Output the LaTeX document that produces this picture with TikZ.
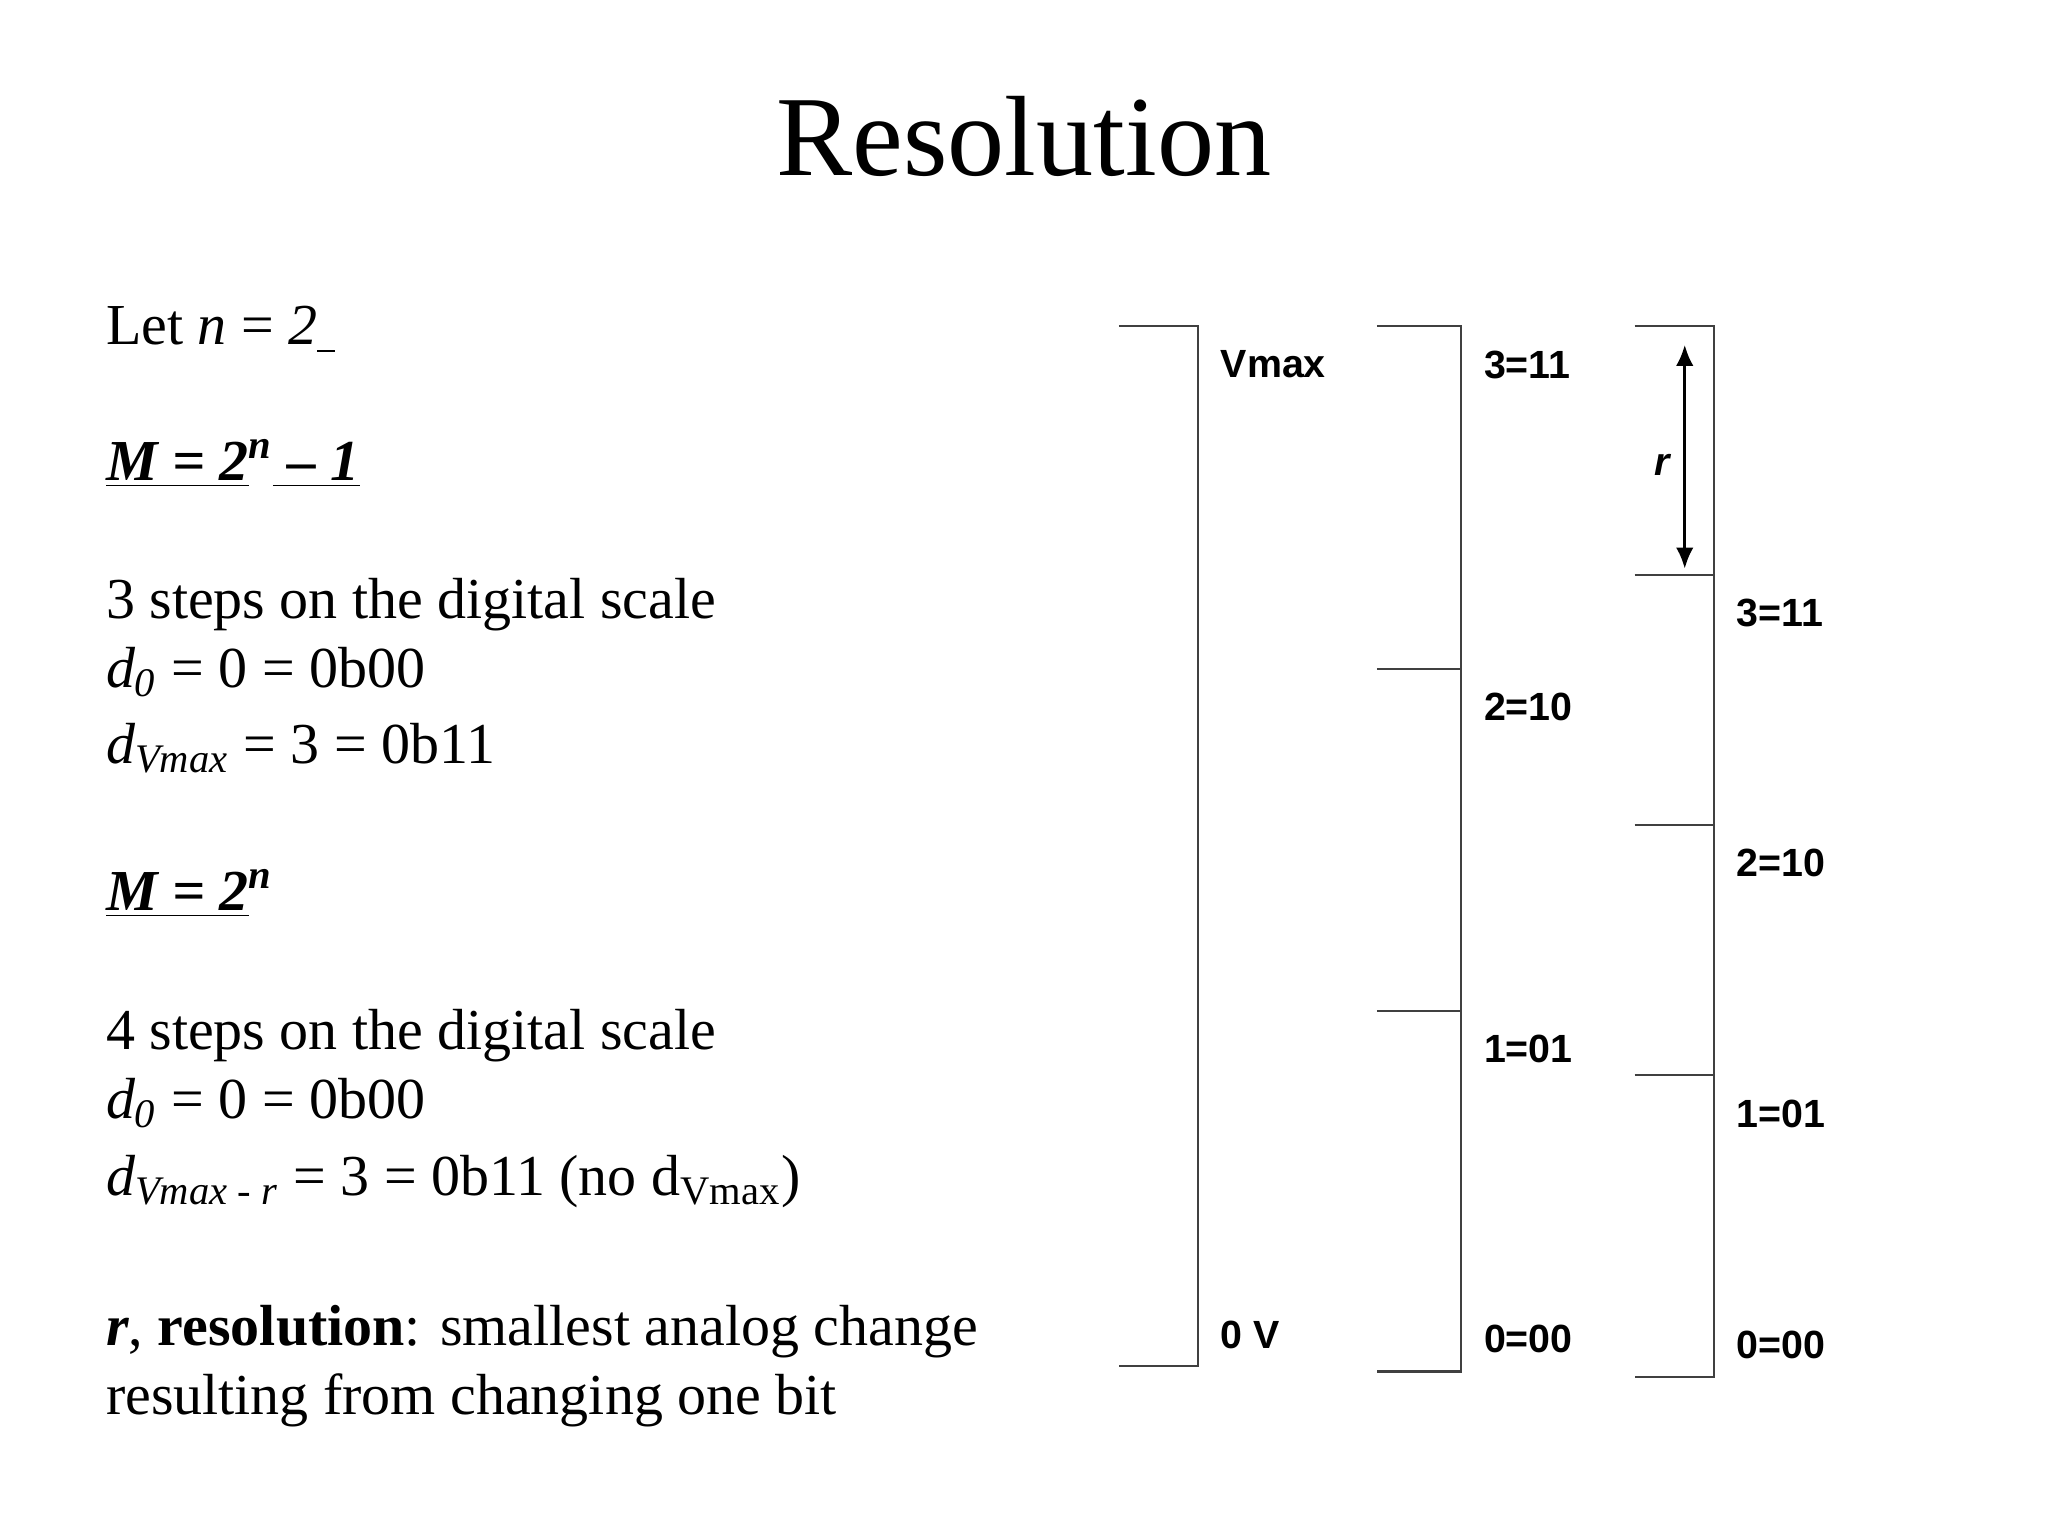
\documentclass[tikz,border=0pt]{standalone}
\usepackage{fontspec}
\setmainfont{Liberation Serif}
\setsansfont{Liberation Sans}
\usetikzlibrary{arrows.meta}
\begin{document}
\begin{tikzpicture}[x=0.013162cm,y=-0.013162cm,
  txt/.style={anchor=base west,inner sep=0pt,font=\fontsize{16.5}{20}\selectfont},
  lab/.style={anchor=west,inner sep=0pt,font=\sffamily\bfseries\fontsize{11.2}{13}\selectfont},
  ln/.style={line width=0.6pt,black!75}]
\useasboundingbox (0,0) rectangle (1556,1166);
\node[anchor=base,inner sep=0pt,font=\fontsize{32.5}{38}\selectfont] (title) at (778,133) {Resolution};
\node[txt] (t1) at (80,262) {Let \textit{n} = \textit{2}\raisebox{-2pt}{\rule{5pt}{0.6pt}}};
\node[txt] (t2) at (80,365) {\textbf{\textit{\underline{M = 2}\textsuperscript{n}\underline{ – 1}}}};
\node[txt] (t3) at (80,470) {3 steps on the digital scale};
\node[txt] (t4) at (80,522) {\textit{d\textsubscript{0}} = 0 = 0b00};
\node[txt] (t5) at (80,580) {\textit{d}\textsubscript{\textit{Vmax}} = 3 = 0b11};
\node[txt] (t6) at (80,692) {\textbf{\textit{\underline{M = 2}\textsuperscript{n}}}};
\node[txt] (t7) at (80,797) {4 steps on the digital scale};
\node[txt] (t8) at (80,850) {\textit{d\textsubscript{0}} = 0 = 0b00};
\node[txt] (t9) at (80,908) {\textit{d}\textsubscript{\textit{Vmax - r}} = 3 = 0b11 (no d\textsubscript{Vmax})};
\node[txt] (t10) at (80,1022) {\textbf{\textit{r}}, \textbf{resolution}: smallest analog change};
\node[txt] (t11) at (80,1075) {resulting from changing one bit};
% bracket 1
\draw[ln] (850,248) -- (910,248) -- (910,1038) -- (850,1038);
\node[lab] (vmax) at (927,277) {Vmax};
\node[lab] (zv) at (927,1014) {0 V};
% bracket 2
\draw[ln] (1046,248) -- (1110,248) -- (1110,1042) -- (1046,1042);
\draw[ln] (1046,508) -- (1110,508);
\draw[ln] (1046,768) -- (1110,768);
\node[lab] (b3) at (1127,277) {3=11};
\node[lab] (b2) at (1127,537) {2=10};
\node[lab] (b1) at (1127,797) {1=01};
\node[lab] (b0) at (1127,1017) {0=00};
% bracket 3
\draw[ln] (1242,248) -- (1302,248) -- (1302,1046) -- (1242,1046);
\draw[ln] (1242,437) -- (1302,437);
\draw[ln] (1242,627) -- (1302,627);
\draw[ln] (1242,817) -- (1302,817);
\node[lab] (c3) at (1319,466) {3=11};
\node[lab] (c2) at (1319,656) {2=10};
\node[lab] (c1) at (1319,846) {1=01};
\node[lab] (c0) at (1319,1022) {0=00};
\coordinate (ra) at (1280,262);
\coordinate (rb) at (1280,432);
\draw[line width=0.8pt,{Latex[length=6pt,width=5pt]}-{Latex[length=6pt,width=5pt]}] (ra) -- (rb);
\node[anchor=center,inner sep=0pt,font=\sffamily\bfseries\itshape\fontsize{11.2}{13}\selectfont] (r) at (1263,353) {r};
\end{tikzpicture}
\end{document}
